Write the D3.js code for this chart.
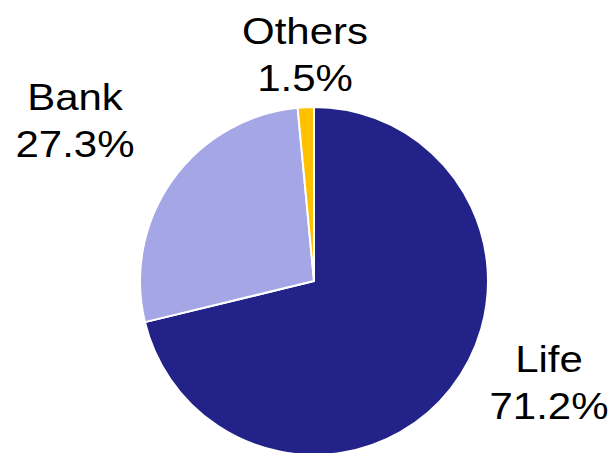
<!DOCTYPE html>
<html>
<head>
<meta charset="utf-8">
<script src="https://cdn.jsdelivr.net/npm/d3@7"></script>
<style>
  html, body { margin: 0; padding: 0; background: #fff; }
  svg { display: block; }
  text { font-family: "Liberation Sans", Arial, Helvetica, sans-serif; fill: #000; }
</style>
</head>
<body>
<svg class="pie" width="611" height="453"></svg>
<script>
var categories = ["Life", "Bank", "Others"];
var shares = [71.2, 27.3, 1.5];
var shareLabels = ["71.2%", "27.3%", "1.5%"];

(function pieChartIIFE(){
    var svg = d3.select("svg.pie"),
        cx = 314,
        cy = 281,
        radius = 174;

    var colour = d3.scaleOrdinal()
        .domain(categories)
        .range(["#222288", "#a4a6e6", "#ffc000"]);

    var data = categories.map(function(c, i) {
        return {name: c, value: shares[i], label: shareLabels[i]};
    });

    var pie = d3.pie()
        .sort(null)
        .value(function(d) { return d.value; });

    var arc = d3.arc().innerRadius(0).outerRadius(radius);

    var g = svg.append("g")
        .attr("transform", "translate(" + cx + "," + cy + ")");

    g.selectAll(".slice")
        .data(pie(data))
        .enter()
        .append("path")
        .attr("class", "slice")
        .attr("d", arc)
        .attr("fill", function(d) { return colour(d.data.name); })
        .attr("stroke", "#fff")
        .attr("stroke-width", 2)
        .attr("stroke-linejoin", "round");

    // label anchors, relative to the pie centre (first line baseline)
    var labelPos = {
        Life:   [235, 91],
        Bank:   [-239, -171],
        Others: [-9, -237]
    };

    var labels = g.selectAll(".label")
        .data(pie(data))
        .enter()
        .append("text")
        .attr("class", "label")
        .attr("text-anchor", "middle")
        .style("font-size", "37.5px")
        .attr("transform", function(d) {
            var p = labelPos[d.data.name];
            return "translate(" + p[0] + "," + p[1] + ") scale(1.12,1)";
        });

    labels.append("tspan")
        .attr("x", 0)
        .attr("y", 0)
        .text(function(d) { return d.data.name; });

    labels.append("tspan")
        .attr("x", 0)
        .attr("y", 47)
        .text(function(d) { return d.data.label; });
})();
</script>
</body>
</html>
